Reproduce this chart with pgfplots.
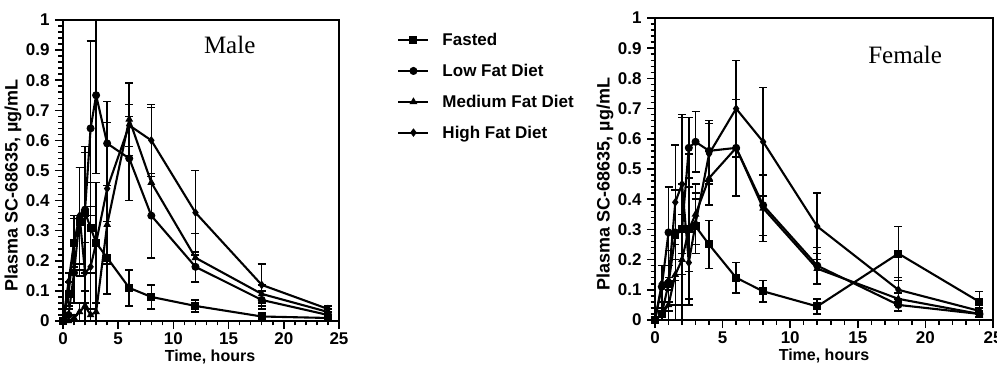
\documentclass[border=0pt]{standalone}
\usepackage{pgfplots}
\pgfplotsset{compat=1.18}
\usepackage{pgfplotstable}
\usepackage{fontspec}
\setmainfont{Liberation Sans}
\newfontfamily\seriff{Liberation Serif}

% Male
\pgfplotstableread{
t c e
0 0 0
0.5 0.09 0.04
1 0.26 0.08
1.5 0.33 0.18
2 0.36 0.2
2.5 0.31 0.15
3 0.26 0.2
4 0.21 0.12
6 0.11 0.06
8 0.08 0.04
12 0.05 0.02
18 0.015 0.01
24 0.01 0.01
}\mFast
\pgfplotstableread{
t c e
0 0 0
0.5 0.02 0.02
1 0.16 0.1
1.5 0.34 0.17
2 0.37 0.21
2.5 0.64 0.29
3 0.75 0.26
4 0.59 0.14
6 0.54 0.14
8 0.35 0.14
12 0.18 0.05
18 0.07 0.03
24 0.02 0.01
}\mLow
\pgfplotstableread{
t c e
0 0 0
0.5 0 0
1 0.01 0.01
1.5 0.03 0.03
2 0.05 0.05
2.5 0.02 0.02
3 0.03 0.03
4 0.32 0.13
6 0.67 0.12
8 0.46 0.25
12 0.21 0.08
18 0.09 0.03
24 0.03 0.01
}\mMed
\pgfplotstableread{
t c e
0 0 0
0.5 0.13 0.03
1 0.26 0.09
1.5 0.35 0.16
2 0.16 0.1
2.5 0.18 0.2
3 0.26 0.2
4 0.44 0.22
6 0.65 0.07
8 0.60 0.12
12 0.36 0.14
18 0.12 0.07
24 0.04 0.01
}\mHigh
% Female
\pgfplotstableread{
t c e
0 0 0
0.5 0.02 0.02
1 0.12 0.06
1.5 0.28 0.15
2 0.3 0.15
2.5 0.3 0.14
3 0.31 0.09
4 0.25 0.08
6 0.14 0.05
8 0.095 0.035
12 0.045 0.025
18 0.22 0.09
24 0.06 0.035
}\fFast
\pgfplotstableread{
t c e
0 0 0
0.5 0.11 0.07
1 0.29 0.15
1.5 0.29 0.29
2 0.3 0.37
2.5 0.57 0.1
3 0.59 0.1
4 0.56 0.1
6 0.57 0.16
8 0.38 0.1
12 0.18 0.06
18 0.05 0.02
24 0.02 0.01
}\fLow
\pgfplotstableread{
t c e
0 0 0
0.5 0.02 0.02
1 0.05 0.05
1.5 0.15 0.1
2 0.2 0.15
2.5 0.3 0.25
3 0.35 0.1
4 0.47 0.09
6 0.57 0.16
8 0.37 0.11
12 0.17 0.05
18 0.07 0.02
24 0.02 0.01
}\fMed
\pgfplotstableread{
t c e
0 0 0
0.5 0.12 0.06
1 0.13 0.1
1.5 0.39 0.19
2 0.45 0.23
2.5 0.19 0.12
3 0.32 0.1
4 0.55 0.1
6 0.70 0.16
8 0.59 0.18
12 0.31 0.11
18 0.10 0.04
24 0.03 0.01
}\fHigh

\pgfplotsset{
 myax/.style={
  scale only axis, anchor=south west,
  xmin=0, xmax=25, ymin=0, ymax=1,
  xtick={0,5,10,15,20,25},
  ytick={0,0.1,0.2,0.3,0.4,0.5,0.6,0.7,0.8,0.9,1},
  minor x tick num=4, minor y tick num=4,
  tick align=outside, tick pos=left,
  major tick length=8pt, minor tick length=4.5pt,
  axis line style={line width=1.8pt},
  every tick/.style={black, line width=1.5pt},
  /pgf/number format/assume math mode=true,
  yticklabel style={/pgf/number format/fixed, /pgf/number format/precision=1, xshift=-2pt},
  ticklabel style={font=\fontsize{17}{18}\selectfont\bfseries},
  xlabel style={font=\fontsize{16}{17}\selectfont\bfseries, yshift=2pt},
  ylabel style={font=\fontsize{18}{19}\selectfont\bfseries, anchor=center},
  xlabel={Time, hours}, ylabel={Plasma SC-68635, µg/mL},
  error bars/error bar style={line width=1.5pt, black},
  error bars/error mark options={line width=1.5pt, mark size=4pt, black, rotate=90},
  legend image code/.code={\draw[mark repeat=2, mark phase=2, #1] plot coordinates {(0pt,0pt) (15pt,0pt) (30pt,0pt)};},
 },
 pl/.style={black, line width=2.1pt, mark=#1, mark size=3.5pt, mark options={solid, fill=black, line width=1pt},
   error bars/.cd, y dir=both, y explicit},
}

\begin{document}
\begin{tikzpicture}
\useasboundingbox (0pt,0pt) rectangle (997pt,367pt);
\begin{axis}[myax, at={(63pt,46pt)}, width=276pt, height=301pt,
  ylabel style={at={(axis description cs:-0.181,0.45)}},
  xlabel style={xshift=9pt},
  legend style={at={(1.2,0.97)}, anchor=north west, draw=none, fill=none,
    font=\fontsize{17}{18}\selectfont\bfseries, row sep=13pt, cells={anchor=west}},
  legend cell align=left]
\addplot[pl=square*] table[x=t, y=c, y error=e] {\mFast};
\addplot[pl=*] table[x=t, y=c, y error=e] {\mLow};
\addplot[pl=triangle*] table[x=t, y=c, y error=e] {\mMed};
\addplot[pl=diamond*] table[x=t, y=c, y error=e] {\mHigh};
\legend{\hspace{11pt}Fasted, \hspace{11pt}Low Fat Diet, \hspace{11pt}Medium Fat Diet, \hspace{11pt}High Fat Diet}
\node[font=\seriff\fontsize{25}{26}\selectfont] at (axis cs:15.1,0.917) {Male};
\end{axis}
\begin{axis}[myax, at={(655pt,47pt)}, width=338pt, height=302pt,
  ylabel style={at={(axis description cs:-0.148,0.45)}}]
\addplot[pl=square*] table[x=t, y=c, y error=e] {\fFast};
\addplot[pl=*] table[x=t, y=c, y error=e] {\fLow};
\addplot[pl=triangle*] table[x=t, y=c, y error=e] {\fMed};
\addplot[pl=diamond*] table[x=t, y=c, y error=e] {\fHigh};
\node[font=\seriff\fontsize{25}{26}\selectfont] at (axis cs:18.5,0.877) {Female};
\end{axis}
\end{tikzpicture}
\end{document}
